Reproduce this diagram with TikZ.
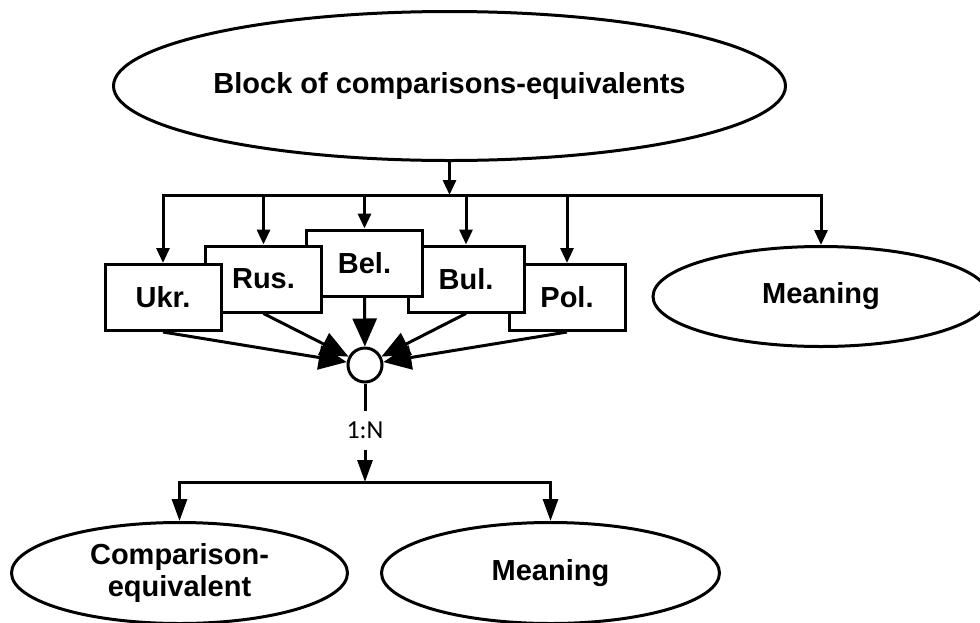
\documentclass[tikz,border=0pt]{standalone}
\usepackage{fontspec}
\setmainfont{Liberation Sans}
\newfontfamily\calib{Carlito}
\usetikzlibrary{shapes.geometric,arrows.meta}

\begin{document}
\begin{tikzpicture}[x=1pt, y=-1pt, line width=3pt,%
	every node/.style={font=\fontsize{29}{32}\selectfont\bfseries, inner sep=0pt},
	oval/.style={ellipse, draw, fill=white, align=center},
	lang/.style={rectangle, draw, fill=white, minimum width=116pt, minimum height=66pt},
	arr/.style={-{Triangle[length=15pt,width=13pt]}},
	midarr/.style={-{Triangle[length=22pt,width=15pt]}},
	bigarr/.style={-{Triangle[length=28pt,width=24pt]}}]
	\useasboundingbox (0,0) rectangle (980,622);

	\node (block) [oval, minimum width=672pt, minimum height=149pt] at (449.5,86) {Block of comparisons-equivalents};
	\node (pol) [lang] at (567,297.5) {Pol.};
	\node (bul) [lang] at (466,279) {Bul.};
	\node (bel) [lang] at (364.5,263) {Bel.};
	\node (rus) [lang] at (263.5,279) {Rus.};
	\node (ukr) [lang] at (163,297.5) {Ukr.};
	\node (mean1) [oval, minimum width=336pt, minimum height=100pt] at (821,296.5) {Meaning};
	\node (circ) [circle, draw, fill=white, minimum size=34pt] at (365,365) {};
	\node (ratio) [font=\calib\fontsize{26}{28}\selectfont, minimum height=36pt] at (365,430) {1:N};
	\node (comp) [oval, minimum width=336pt, minimum height=101pt] at (179.5,573) {Comparison-\\equivalent};
	\node (mean2) [oval, minimum width=338pt, minimum height=101pt] at (550.5,573) {Meaning};

	\coordinate (bus1) at (449.5,195);
	\coordinate (bus2) at (365,482);

	\draw[arr] (block) -- (bus1);
	\foreach \n in {ukr,rus,bel,bul,pol,mean1}
		\draw[arr] (bus1) -| (\n);
	\foreach \n in {ukr,rus,bel,bul,pol}
		\draw[bigarr] (\n.south) -- (circ);

	\draw (circ) -- (ratio);
	\draw[midarr] (ratio) -- (bus2);
	\draw[midarr] (bus2) -| (comp);
	\draw[midarr] (bus2) -| (mean2);
\end{tikzpicture}
\end{document}
